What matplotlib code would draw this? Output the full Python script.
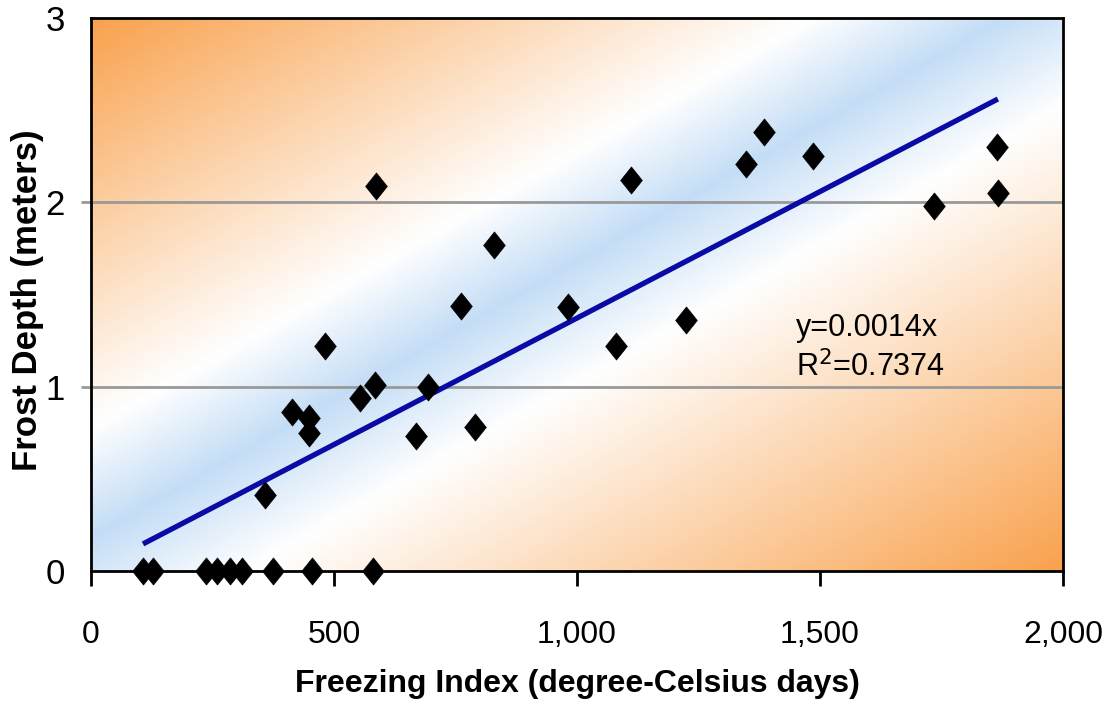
import numpy as np
import matplotlib
matplotlib.use('Agg')
import matplotlib.pyplot as plt
from matplotlib.colors import LinearSegmentedColormap
from matplotlib.path import Path

# freezing index (degree-Celsius days) and frost depth (m)
freezing_index = [107, 128, 237, 259, 286, 311, 375, 455, 580,
                  358, 414, 449, 449, 481, 553, 584, 586, 669, 693,
                  761, 790, 829, 981, 1080, 1111, 1224, 1348, 1385,
                  1486, 1735, 1864, 1866]
frost_depth = [0, 0, 0, 0, 0, 0, 0, 0, 0,
               0.41, 0.86, 0.83, 0.75, 1.22, 0.94, 1.01, 2.09, 0.73, 1.00,
               1.44, 0.78, 1.77, 1.43, 1.22, 2.12, 1.36, 2.21, 2.38,
               2.25, 1.98, 2.30, 2.05]
x_ticks = [0, 500, 1000, 1500, 2000]
x_ticklabels = ['0', '500', '1,000', '1,500', '2,000']
y_ticks = [0, 1, 2, 3]
fit_text = 'y=0.0014x\nR$^2$=0.7374'

plt.rcParams['font.family'] = ['Liberation Sans', 'DejaVu Sans']

fig = plt.figure(figsize=(11.04, 7.15), dpi=100)
ax = fig.add_axes([91 / 1104, 144 / 715, 972 / 1104, 553 / 715])

# diagonal background: orange corners, blue band bottom-left -> top-right
bg = LinearSegmentedColormap.from_list('bg', [
    (0.0, '#F9A24E'), (0.37, '#FFFFFF'), (0.47, '#C4DDF6'),
    (0.58, '#FFFFFF'), (1.0, '#F9A24E')])
u, v = np.meshgrid(np.linspace(0, 1, 400), np.linspace(0, 1, 300))
t = (u + (1 - v)) / 2
ax.imshow(bg(t), extent=[0, 2000, 0, 3], origin='lower', aspect='auto',
          zorder=0, interpolation='bilinear')

for yv in [1, 2]:
    ax.axhline(yv, color='#999999', lw=2, zorder=1)

# regression through origin
xs = np.array(freezing_index, dtype=float)
ys = np.array(frost_depth, dtype=float)
slope = (xs * ys).sum() / (xs * xs).sum()
xl = np.array([xs.min(), xs.max()])
ax.plot(xl, slope * xl, color='#0A0AA5', lw=3.8, zorder=3,
        solid_capstyle='butt')

diamond = Path([(0, 1), (0.8, 0), (0, -1), (-0.8, 0), (0, 1)],
               [Path.MOVETO, Path.LINETO, Path.LINETO, Path.LINETO, Path.CLOSEPOLY])
ax.plot(xs, ys, linestyle='none', marker=diamond, ms=19.5, color='black',
        mec='black', mew=0.5, zorder=4, clip_on=False)

ax.text(1450, 1.21, fit_text, fontsize=22, ha='left', va='center',
        linespacing=1.3, zorder=5)

ax.set_xlim(0, 2000)
ax.set_ylim(0, 3)
ax.set_xticks(x_ticks)
ax.set_xticklabels(x_ticklabels)
ax.set_yticks(y_ticks)
ax.tick_params(axis='x', direction='out', length=11, width=2, pad=24,
               labelsize=23, colors='black')
ax.tick_params(axis='y', direction='out', length=7, width=2, pad=12,
               labelsize=25, color='#999999', labelcolor='black')
for i, tk in enumerate(ax.yaxis.get_major_ticks()):
    if y_ticks[i] in (0, 3):
        tk.tick1line.set_visible(False)

for sp in ax.spines.values():
    sp.set_color('black')
    sp.set_linewidth(2)
    sp.set_zorder(2)

ax.set_xlabel('Freezing Index (degree-Celsius days)', fontsize=23,
              fontweight='bold', labelpad=14)
ax.set_ylabel('Frost Depth (meters)', fontsize=25, fontweight='bold')
ax.yaxis.set_label_coords(-0.048, 0.49)

fig.savefig('out.png', dpi=100)
